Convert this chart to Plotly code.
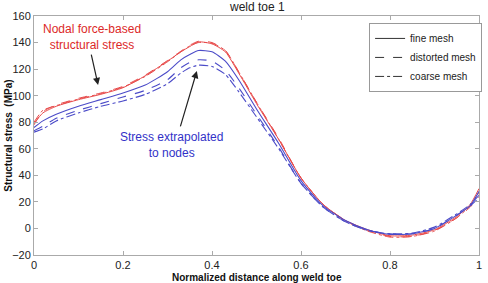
import plotly.graph_objects as go

x = [0, 0.02, 0.05, 0.1, 0.15, 0.2, 0.25, 0.3, 0.33, 0.35, 0.37, 0.4, 0.43, 0.46,
     0.5, 0.55, 0.6, 0.65, 0.7, 0.75, 0.8, 0.85, 0.9, 0.95, 0.98, 1.0]

red_fine = [79, 87, 92, 97, 101, 106, 115, 126, 133, 137, 140.5, 139, 133, 117,
            94, 67, 38, 18, 6, -1, -5.5, -5, -1, 9, 18, 30]
red_distorted = [78, 88, 93, 98, 102, 107, 115.5, 126.5, 133.5, 138, 141, 140, 134, 118,
                 95, 68, 38, 18, 6, -1.5, -6, -6, -1.5, 8, 16, 24]
red_coarse = [80, 89, 92.5, 97.5, 101.5, 106.5, 114.5, 125.5, 133, 137.5, 140, 139.5, 134, 118,
              95, 67, 38, 18, 5.5, -2, -6.5, -6, -2, 8, 17, 27]
blue_fine = [76, 81, 86, 92, 97, 102, 108, 118, 127, 131, 134, 133, 126, 112,
             90, 64, 36, 17, 6, -1, -4.5, -4, 0, 10, 17, 28]
blue_distorted = [73.5, 77, 83, 89, 94, 99, 104, 112, 121, 125, 127, 126, 119, 106,
                  86, 61, 34, 16, 5, -1.5, -4, -4, 0, 10, 17, 23]
blue_coarse = [72.5, 75, 81, 87, 92, 96, 101, 109, 117, 121, 123, 122, 116, 103,
               84, 60, 34, 16, 5, -1.5, -4, -3.5, 1, 11, 18, 25]

legend_names = ["fine mesh", "distorted mesh", "coarse mesh"]
x_ticks = [0, 0.2, 0.4, 0.6, 0.8, 1]
y_ticks = [-20, 0, 20, 40, 60, 80, 100, 120, 140, 160]

RED = "rgb(232,75,75)"
BLUE = "rgb(75,75,200)"
FONT = "Liberation Sans, Arial"
dashes = ["solid", "dash", "dashdot"]

fig = go.Figure()
for ys, d in zip([red_fine, red_distorted, red_coarse], dashes):
    fig.add_trace(go.Scatter(x=x, y=ys, mode="lines", line=dict(color=RED, width=1, dash=d,
                                                                 shape="spline", smoothing=0.6),
                             showlegend=False))
for ys, d in zip([blue_fine, blue_distorted, blue_coarse], dashes):
    fig.add_trace(go.Scatter(x=x, y=ys, mode="lines", line=dict(color=BLUE, width=1.1, dash=d,
                                                                 shape="spline", smoothing=0.6),
                             showlegend=False))
for name, d in zip(legend_names, dashes):
    fig.add_trace(go.Scatter(x=[None], y=[None], mode="lines", name=name,
                             line=dict(color="#333", width=1, dash=d)))

axis_common = dict(showline=True, linecolor="#aaa", linewidth=1, mirror="ticks",
                   ticks="inside", ticklen=4, tickcolor="#aaa", showgrid=False, zeroline=False,
                   automargin=False,
                   tickfont=dict(family=FONT, size=11, color="#222"))

fig.update_xaxes(range=[0, 1], tickvals=x_ticks, ticktext=[str(t) for t in x_ticks], **axis_common)
fig.update_yaxes(range=[-20, 160], tickvals=y_ticks, **axis_common)

fig.add_annotation(text="weld toe 1", xref="paper", yref="paper", x=0.5, y=1.036,
                   showarrow=False, yanchor="middle",
                   font=dict(family=FONT, size=12, color="#222"))
fig.add_annotation(text="<b>Normalized distance along weld toe</b>", xref="paper", yref="paper",
                   x=0.5, y=-0.096, yanchor="middle", showarrow=False,
                   font=dict(family=FONT, size=10, color="#111"))
fig.add_annotation(text="<b>Structural stress  (MPa)</b>", xref="paper", yref="paper",
                   x=-0.058, y=0.5, xanchor="center", yanchor="middle", textangle=-90,
                   showarrow=False, font=dict(family=FONT, size=10, color="#111"))
fig.add_annotation(text="Nodal force-based<br>structural stress", x=0.13, y=144.5,
                   showarrow=False, font=dict(family=FONT, size=12, color="rgb(220,40,40)"))
fig.add_annotation(text="Stress extrapolated<br>to nodes", x=0.31, y=62.5,
                   showarrow=False, font=dict(family=FONT, size=12, color="rgb(50,50,200)"))
fig.add_annotation(x=0.144, y=108, ax=0.128, ay=132, axref="x", ayref="y", text="",
                   showarrow=True, arrowhead=2, arrowsize=1.2, arrowwidth=1.2, arrowcolor="#222")
fig.add_annotation(x=0.366, y=118.6, ax=0.328, ay=75.7, axref="x", ayref="y", text="",
                   showarrow=True, arrowhead=2, arrowsize=1.2, arrowwidth=1.2, arrowcolor="#222")

fig.update_layout(
    width=488, height=283,
    margin=dict(l=34, r=9, t=16, b=28, autoexpand=False),
    paper_bgcolor="white", plot_bgcolor="white",
    legend=dict(x=0.753, y=0.971, xanchor="left", yanchor="top",
                bgcolor="white", bordercolor="#999", borderwidth=1,
                font=dict(family=FONT, size=10, color="#222"),
                tracegroupgap=0, itemwidth=30),
)

fig.write_html("out.html")
